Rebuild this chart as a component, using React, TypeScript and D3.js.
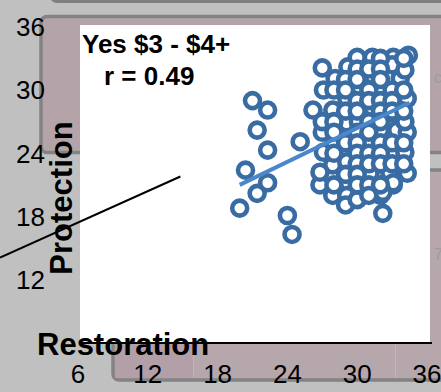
import React from "react";
import * as d3 from "d3";

const xTicks = [6, 12, 18, 24, 30, 36];
const yTicks = [12, 18, 24, 30, 36];

const restoration = [
  19.9, 20.4, 21.0, 22.3, 21.4, 22.3, 21.4, 22.3, 24.0, 24.4, 25.1, 26.2,
  27.1, 27.0, 28.1, 29.2, 30.0, 31.3, 33.1, 34.4, 29.1, 30.2, 31.3, 32.1, 33.7, 33.0, 31.3, 32.7, 34.3, 27.9, 29.1, 30.1, 32.0, 33.9, 33.4,
  27.1, 27.9, 29.1, 30.9, 31.8, 33.1, 34.1, 34.3, 31.1, 32.8, 34.3, 26.8, 27.9, 29.2, 29.1, 30.2, 32.0, 33.1, 29.0, 32.2, 30.0,
  34.1, 34.1, 33.1, 32.2, 26.8,
  27, 27, 28, 28, 28, 28, 29, 29, 29, 29, 29, 30, 30, 30, 30, 30, 30, 30, 30, 30, 30,
  31, 31, 31, 31, 31, 31, 31, 31, 31, 32, 32, 32, 32, 32, 32, 32, 32, 32, 32,
  33, 33, 33, 33, 33, 34, 34, 34, 34, 34, 28, 28,
];
const protection = [
  18.8, 22.4, 29.0, 28.1, 26.2, 24.3, 20.2, 21.2, 18.1, 16.3, 25.1, 28.1,
  30.0, 32.1, 31.1, 32.2, 33.1, 33.1, 33.1, 33.3, 29.2, 30.3, 31.4, 30.2, 31.1, 32.4, 28.3, 27.8, 29.2, 28.1, 26.9, 27.0, 26.2, 27.2, 26.2,
  24.1, 22.9, 23.2, 25.1, 23.8, 24.1, 24.1, 26.0, 22.1, 22.2, 22.1, 21.0, 20.0, 21.2, 20.0, 20.0, 20.0, 21.0, 19.1, 18.3, 19.6,
  31.9, 27.0, 21.2, 20.3, 22.2,
  26, 27, 30, 25, 24, 21, 31, 30, 28, 25, 22, 32, 31, 29, 28, 26, 25, 24, 23, 22, 21,
  32, 30, 29, 27, 26, 24, 23, 21, 20, 33, 32, 31, 29, 28, 27, 25, 24, 23, 21,
  30, 29, 28, 25, 23, 33, 30, 28, 25, 23, 27, 26,
];

const trendX = [19.9, 34.5];
const trendY = [21.0, 28.8];
const leaderX = [-0.7, 14.8];
const leaderY = [14.1, 21.8];

const titleLines = ["Yes $3 - $4+", "r = 0.49"];
const xLabel = "Restoration";
const yLabel = "Protection";

const W = 441;
const H = 392;
const FONT = "'Liberation Sans', Arial, Helvetica, sans-serif";

export default function App() {
  const x = d3.scaleLinear().domain([6, 36]).range([78, 427]);
  const y = d3.scaleLinear().domain([6, 36]).range([343, 26.8]);
  const pts = restoration.map((r, i) => [r, protection[i]]);
  const lineGen = d3
    .line<number>()
    .x((d) => x(trendX[d]))
    .y((d) => y(trendY[d]));
  const leaderGen = d3
    .line<number>()
    .x((d) => x(leaderX[d]))
    .y((d) => y(leaderY[d]));

  return (
    <div style={{ position: "fixed", left: 0, top: 0, width: W, height: H, overflow: "hidden" }}>
      <svg width={W} height={H} style={{ display: "block" }} fontFamily={FONT}>
        {/* background scene */}
        <rect x={0} y={0} width={W} height={H} fill="#c0c0c0" />
        <rect x={50} y={-40} width={450} height={43} rx={7} fill="#7f7f7f" />
        <rect x={41} y={16.5} width={430} height={136} rx={6} fill="#b4a4aa" stroke="#838383" strokeWidth={3.5} />
        <rect x={113} y={170} width={360} height={210} rx={6} fill="#b5a7ab" stroke="#838383" strokeWidth={3.5} />
        <rect x={115} y={343} width={78} height={35} fill="#b39fa7" />
        <line x1={193.5} x2={193.5} y1={343} y2={378} stroke="#c2b6ba" strokeWidth={1} />
        <line x1={395.5} x2={395.5} y1={343} y2={378} stroke="#c2b6ba" strokeWidth={1} />
        <text x={434} y={83} fontSize={16} fill="#9c9c9c">c</text>
        <text x={434} y={260} fontSize={16} fill="#9c9c9c">70</text>

        {/* plot area */}
        <rect x={80} y={25} width={350} height={317} fill="#ffffff" />
        <line x1={80} x2={432} y1={343} y2={343} stroke="#000" strokeWidth={2} />

        {/* points */}
        <g>
          {pts.map((p, i) => (
            <circle key={i} cx={x(p[0])} cy={y(p[1])} r={7.5} fill="#ffffff" stroke="#3a6ca4" strokeWidth={4.6} />
          ))}
        </g>
        <path d={lineGen([0, 1]) || ""} stroke="#4a87cc" strokeWidth={4} fill="none" />

        {/* tick labels */}
        {yTicks.map((t) => (
          <text key={"y" + t} x={45} y={y(t)} dy="0.36em" textAnchor="end" fontSize={26} fill="#000">
            {t}
          </text>
        ))}
        {xTicks.map((t) => (
          <text key={"x" + t} x={x(t)} y={383} textAnchor="middle" fontSize={26} fill="#000">
            {t}
          </text>
        ))}

        {/* titles */}
        <text x={82} y={53} fontSize={26} fontWeight="bold" fill="#000">{titleLines[0]}</text>
        <text x={104} y={85} fontSize={26} fontWeight="bold" fill="#000">{titleLines[1]}</text>
        <text x={37} y={355} fontSize={31} fontWeight="bold" fill="#000">{xLabel}</text>
        <text
          transform={`translate(72,198) rotate(-90)`}
          textAnchor="middle"
          fontSize={31}
          fontWeight="bold"
          fill="#000"
        >
          {yLabel}
        </text>
        <path d={leaderGen([0, 1]) || ""} stroke="#000" strokeWidth={2} fill="none" />
      </svg>
    </div>
  );
}
